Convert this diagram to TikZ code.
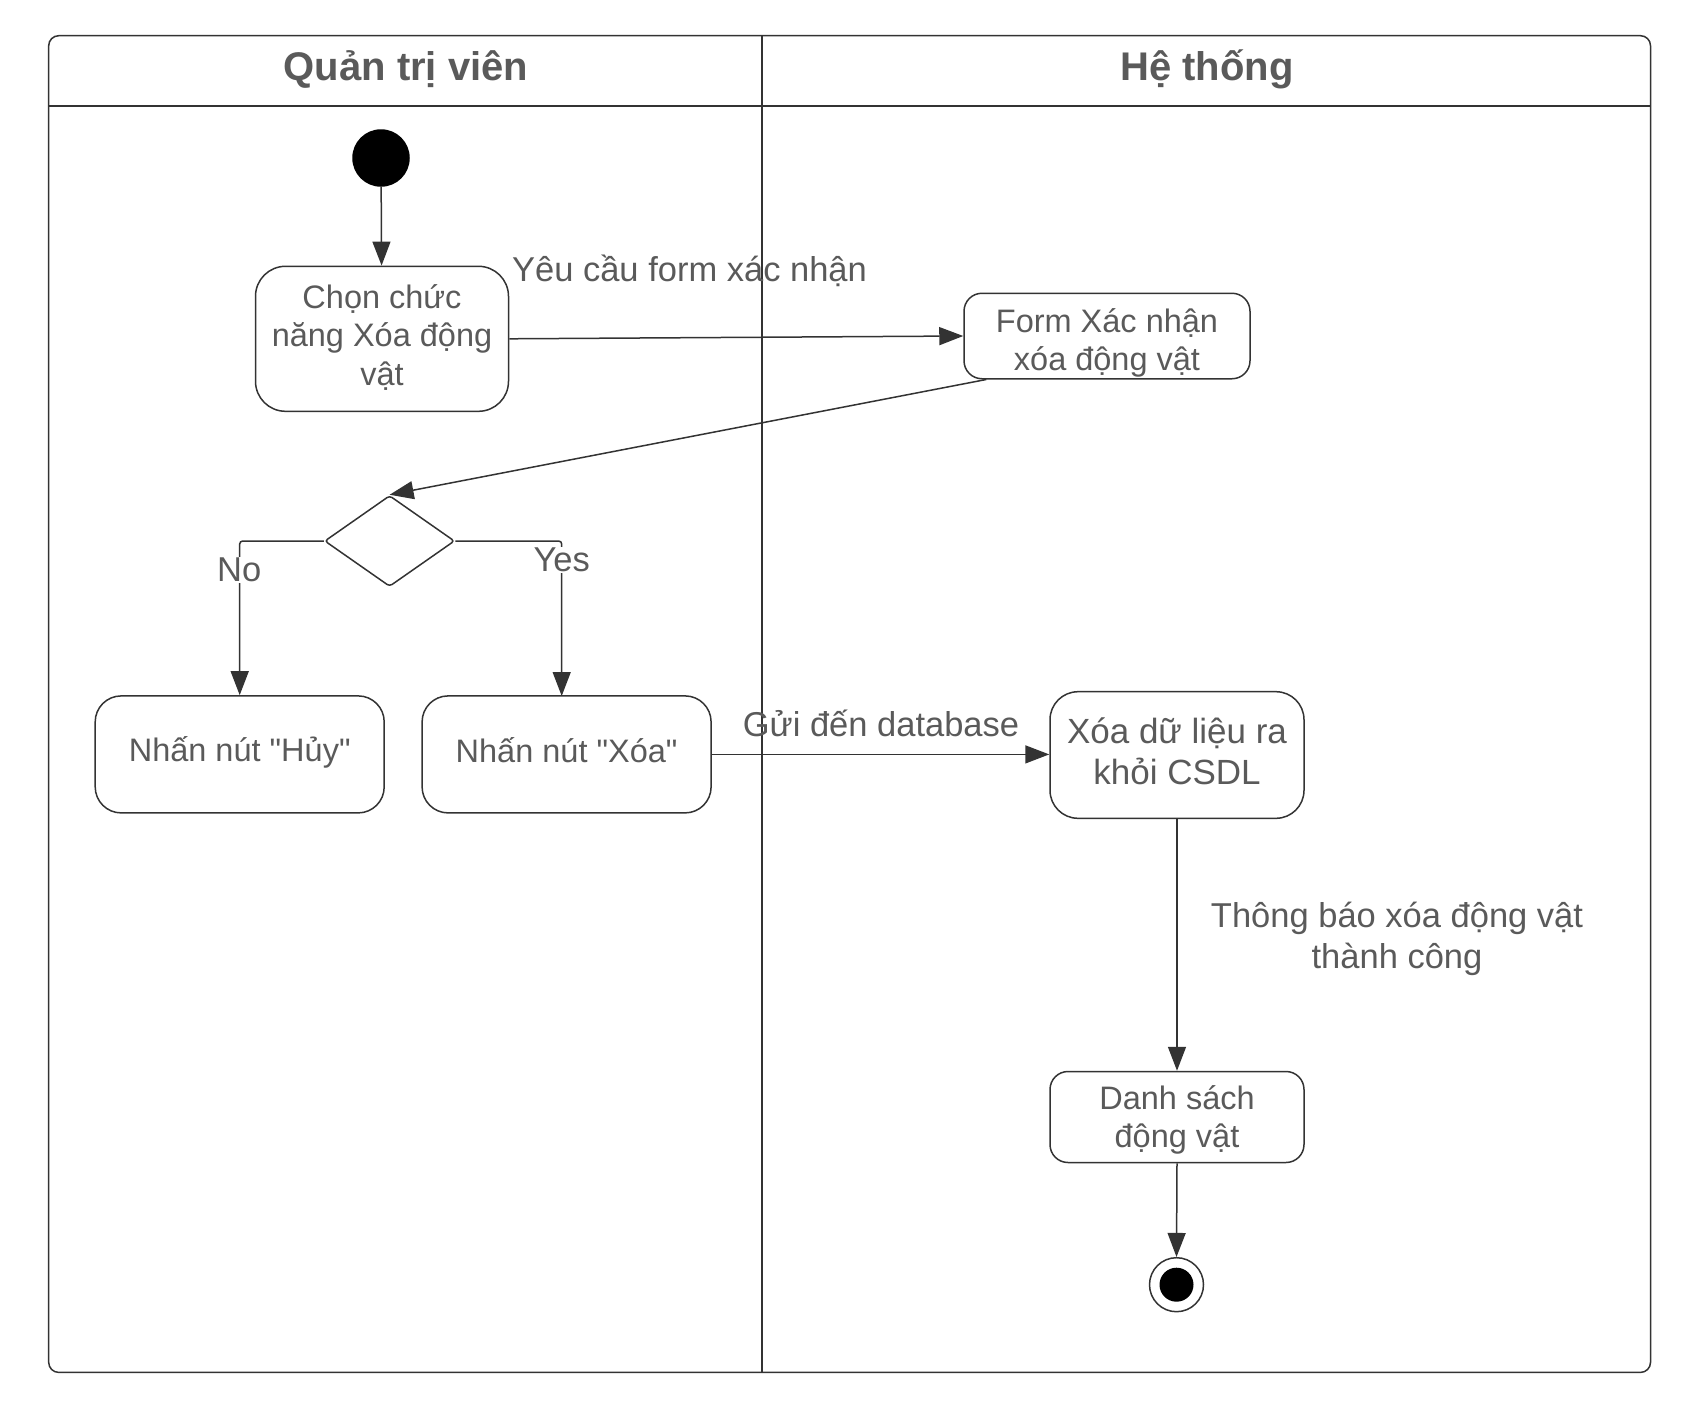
\documentclass[tikz,border=0pt]{standalone}
\usepackage{fontspec}
\setmainfont{Liberation Sans}
\usetikzlibrary{arrows.meta,shapes.geometric}
\definecolor{ink}{HTML}{333333}
\definecolor{txt}{HTML}{5A5A5A}
\begin{document}
\begin{tikzpicture}[x=1pt,y=-1pt,
  line width=1.5pt,
  arr/.style={draw=ink,-{Triangle[length=24pt,width=18pt]}},
  act/.style={draw=ink,rounded corners=30pt,inner sep=0pt},
  acttext/.style={align=center,text=txt,font=\fontsize{32.5}{38.4}\selectfont,inner sep=0pt},
  lbl/.style={text=txt,font=\fontsize{34.5}{41}\selectfont,inner sep=1pt,align=center},
  lane/.style={text=txt,font=\bfseries\fontsize{40}{46}\selectfont}]
\useasboundingbox (0,0) rectangle (1697,1419);

% swimlane frame
\draw[ink,rounded corners=10pt] (48.7,35.7) rectangle (1650.5,1372.4);
\draw[ink] (48.7,106) -- (1650.5,106);
\draw[ink] (762,35.7) -- (762,1372.4);
\node[lane] (laneA) at (406,69) {Quản trị viên};
\node[lane] (laneB) at (1207,69) {Hệ thống};

% activity nodes (box, then its text)
\node[circle,fill=black,draw=black,minimum size=56pt,inner sep=0pt] (start) at (381,158) {};
\node[act,minimum width=253pt,minimum height=145pt] (chon) at (382,338.8) {};
\node[acttext] (chont) at ([yshift=1.5pt]chon.center) {Chọn chức\\năng Xóa động\\vật};
\node[act,rounded corners=18pt,minimum width=286pt,minimum height=85.5pt] (form) at (1107,336) {};
\node[acttext] (formt) at ([yshift=-7pt]form.center) {Form Xác nhận\\xóa động vật};
\node[diamond,draw=ink,rounded corners=3pt,minimum width=130pt,minimum height=91pt,inner sep=0pt] (dec) at (389.6,541) {};
\node[act,rounded corners=26pt,minimum width=289pt,minimum height=117pt] (huy) at (239.7,754.4) {};
\node[acttext] (huyt) at ([yshift=2pt]huy.center) {Nhấn nút \textquotedbl Hủy\textquotedbl};
\node[act,rounded corners=26pt,minimum width=289pt,minimum height=117pt] (xoa) at (566.6,754.4) {};
\node[acttext] (xoat) at ([yshift=4pt]xoa.center) {Nhấn nút \textquotedbl Xóa\textquotedbl};
\node[act,rounded corners=28pt,minimum width=254pt,minimum height=126.6pt] (xoadl) at (1177,755) {};
\node[acttext,font=\fontsize{35}{41}\selectfont] (xoadlt) at ([yshift=4pt]xoadl.center) {Xóa dữ liệu ra\\khỏi CSDL};
\node[act,rounded corners=18pt,minimum width=254pt,minimum height=91pt] (ds) at (1177,1117) {};
\node[acttext] (dst) at ([yshift=-3pt]ds.center) {Danh sách\\động vật};
\node[circle,draw=ink,minimum size=54pt,inner sep=0pt] (final) at (1176.5,1284.7) {};
\node[circle,fill=black,minimum size=34pt,inner sep=0pt] (finaldot) at (final.center) {};

% transitions
\draw[arr] (start) -- (chon);
\draw[arr] (chon.east) -- (form.west);
\node[lbl] (l1) at (689.5,270.6) {Yêu cầu form xác nhận};
\draw[arr] ([xshift=23pt]form.south west) -- (dec.north);
\coordinate (yesdown) at (561.7,696);
\draw[arr,rounded corners=3pt] (dec.west) -| (huy.north);
\draw[arr,rounded corners=3pt] (dec.east) -| (yesdown);
\node[lbl,fill=white] (lno) at (239.2,570) {No};
\node[lbl,fill=white] (lyes) at (561.7,559.6) {Yes};
\draw[arr] (xoa.east) -- (xoa.east -| xoadl.west);
\node[lbl] (l2) at (881,723) {Gửi đến database};
\draw[arr] (xoadl.south) -- (ds.north);
\node[lbl] (l3) at (1397,939) {Thông báo xóa động vật\\thành công};
\draw[arr] (ds.south) -- (final.north);
\end{tikzpicture}
\end{document}
